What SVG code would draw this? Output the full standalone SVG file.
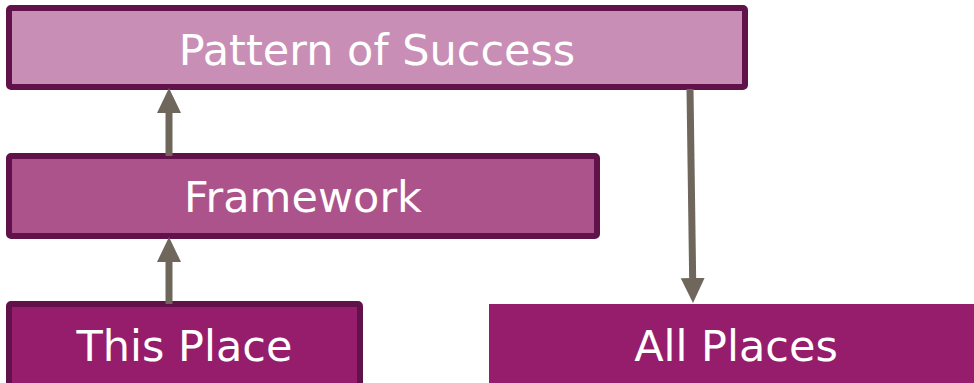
<svg xmlns="http://www.w3.org/2000/svg" width="974" height="383" viewBox="0 0 974 383">
  <defs>
    <!-- arrowhead sits beyond the shaft end: refX=0 puts its base on the line end -->
    <marker id="head" viewBox="0 0 25 24" refX="0" refY="12" markerWidth="25" markerHeight="24" markerUnits="userSpaceOnUse" orient="auto">
      <path d="M0 0 L25 12 L0 24 Z" fill="#6F665C"/>
    </marker>
  </defs>
  <style>
    .box { stroke: #62124A; stroke-width: 6; stroke-linejoin: round; }
    .lbl { font-family: "DejaVu Sans", Verdana, sans-serif; font-size: 43px; fill: #FFFFFF; text-anchor: middle; }
    .conn { stroke: #6F665C; stroke-width: 7; fill: none; }
  </style>
  <rect width="974" height="383" fill="#FFFFFF"/>

  <g id="pattern">
    <rect class="box" x="9" y="8" width="736" height="79" rx="2" fill="#C98EB5"/>
    <text class="lbl" x="377" y="65">Pattern of Success</text>
  </g>

  <g id="framework">
    <rect class="box" x="9" y="156" width="588" height="80" rx="2" fill="#AD538B"/>
    <text class="lbl" x="303" y="212">Framework</text>
  </g>

  <g id="this-place">
    <rect class="box" x="9" y="304" width="351" height="82" rx="2" fill="#951D6B"/>
    <text class="lbl" x="184.5" y="361">This Place</text>
  </g>

  <g id="all-places">
    <rect x="489" y="304" width="490" height="79" fill="#951D6B"/>
    <text class="lbl" x="736" y="361">All Places</text>
  </g>

  <g id="connectors">
    <line class="conn" x1="169" y1="156" x2="169" y2="113" marker-end="url(#head)"/>
    <line class="conn" x1="169" y1="304" x2="169" y2="262" marker-end="url(#head)"/>
    <line class="conn" x1="690" y1="89" x2="692.65" y2="278" marker-end="url(#head)"/>
  </g>
</svg>
